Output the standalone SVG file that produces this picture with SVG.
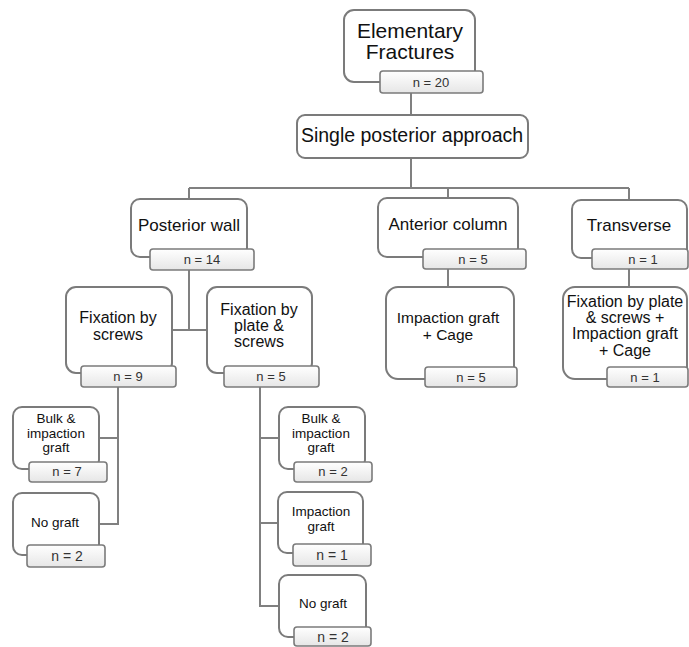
<svg xmlns="http://www.w3.org/2000/svg" width="689" height="647" viewBox="0 0 689 647">
<defs>
<linearGradient id="bg" x1="0" y1="0" x2="0" y2="1">
<stop offset="0" stop-color="#ffffff"/>
<stop offset="1" stop-color="#e6e6e6"/>
</linearGradient>
</defs>
<style>
.box{fill:#ffffff;stroke:#7b7b7b;stroke-width:2}
.bdg{fill:url(#bg);stroke:#7b7b7b;stroke-width:1.6}
.con{fill:none;stroke:#808080;stroke-width:2}
text{font-family:"Liberation Sans",Arial,sans-serif;fill:#111111;text-anchor:middle}
.t21{font-size:21px}
.t19{font-size:19.5px}
.t17{font-size:17px}
.t16{font-size:16px}
.t13{font-size:13.5px}
.n{font-size:13px;fill:#333}
</style>
<rect width="689" height="647" fill="#ffffff"/>
<g id="connectors">
<path class="con" d="M411 93V115M411 158V188M189 188H629M189 188V199M448 188V198M629 188V200"/>
<path class="con" d="M189 270V330M172 330H207"/>
<path class="con" d="M448 269V287M629 269V287"/>
<path class="con" d="M118 387V524H99M99 438H118"/>
<path class="con" d="M260 387V606H279M260 438H279M260 523H278"/>
</g>
<g id="n-elementary">
<rect class="box" x="344" y="10" width="131" height="72" rx="10"/>
<text class="t21" x="410" y="38">Elementary</text>
<text class="t21" x="410" y="59">Fractures</text>
<rect class="bdg" x="380" y="71" width="103" height="22" rx="3"/>
<text class="n" x="431" y="87">n = 20</text>
</g>
<g id="n-single">
<rect class="box" x="297" y="115" width="231" height="43" rx="8"/>
<text class="t19" x="412" y="142">Single posterior approach</text>
</g>
<g id="n-postwall">
<rect class="box" x="131" y="199" width="116" height="58" rx="9"/>
<text class="t17" x="189" y="231">Posterior wall</text>
<rect class="bdg" x="150" y="249" width="104" height="21" rx="3"/>
<text class="n" x="202" y="264">n = 14</text>
</g>
<g id="n-antcol">
<rect class="box" x="378" y="198" width="140" height="59" rx="9"/>
<text class="t17" x="448" y="230">Anterior column</text>
<rect class="bdg" x="423" y="249" width="103" height="20" rx="3"/>
<text class="n" x="473" y="264">n = 5</text>
</g>
<g id="n-transverse">
<rect class="box" x="572" y="200" width="115" height="58" rx="9"/>
<text class="t17" x="629" y="231">Transverse</text>
<rect class="bdg" x="592" y="249" width="96" height="20" rx="3"/>
<text class="n" x="643" y="264">n = 1</text>
</g>
<g id="n-fixscrews">
<rect class="box" x="66" y="287" width="106" height="86" rx="10"/>
<text class="t16" x="118" y="323">Fixation by</text>
<text class="t16" x="118" y="340">screws</text>
<rect class="bdg" x="81" y="366" width="95" height="21" rx="3"/>
<text class="n" x="128" y="381">n = 9</text>
</g>
<g id="n-fixplate">
<rect class="box" x="207" y="287" width="105" height="86" rx="10"/>
<text class="t16" x="259" y="315">Fixation by</text>
<text class="t16" x="259" y="331">plate &amp;</text>
<text class="t16" x="259" y="347">screws</text>
<rect class="bdg" x="224" y="366" width="95" height="21" rx="3"/>
<text class="n" x="271" y="381">n = 5</text>
</g>
<g id="n-impcage">
<rect class="box" x="386" y="287" width="128" height="92" rx="12"/>
<text class="t16" x="448" y="323" style="font-size:15.5px">Impaction graft</text>
<text class="t16" x="448" y="340" style="font-size:15.5px">+ Cage</text>
<rect class="bdg" x="425" y="367" width="92" height="20" rx="3"/>
<text class="n" x="471" y="382">n = 5</text>
</g>
<g id="n-fixplatecage">
<rect class="box" x="563" y="287" width="124" height="92" rx="12"/>
<text class="t16" x="625" y="307">Fixation by plate</text>
<text class="t16" x="625" y="323">&amp; screws +</text>
<text class="t16" x="625" y="339">Impaction graft</text>
<text class="t16" x="625" y="356">+ Cage</text>
<rect class="bdg" x="607" y="367" width="81" height="20" rx="3"/>
<text class="n" x="645" y="382">n = 1</text>
</g>
<g id="n-bulk-left">
<rect class="box" x="13" y="407" width="86" height="62" rx="9"/>
<text class="t13" x="56" y="423">Bulk &amp;</text>
<text class="t13" x="56" y="438">impaction</text>
<text class="t13" x="56" y="452">graft</text>
<rect class="bdg" x="29" y="462" width="78" height="20" rx="3"/>
<text class="n" x="67" y="476">n = 7</text>
</g>
<g id="n-nograft-left">
<rect class="box" x="13" y="493" width="86" height="62" rx="9"/>
<text class="t13" x="55" y="527">No graft</text>
<rect class="bdg" x="27" y="545" width="78" height="22" rx="3"/>
<text class="n" x="67" y="561" style="font-size:14px">n = 2</text>
</g>
<g id="n-bulk-right">
<rect class="box" x="279" y="407" width="86" height="62" rx="9"/>
<text class="t13" x="321" y="423">Bulk &amp;</text>
<text class="t13" x="321" y="438">impaction</text>
<text class="t13" x="321" y="452">graft</text>
<rect class="bdg" x="294" y="462" width="78" height="20" rx="3"/>
<text class="n" x="333" y="476">n = 2</text>
</g>
<g id="n-imp-right">
<rect class="box" x="278" y="492" width="85" height="61" rx="9"/>
<text class="t13" x="321" y="516">Impaction</text>
<text class="t13" x="321" y="531">graft</text>
<rect class="bdg" x="293" y="544" width="78" height="22" rx="3"/>
<text class="n" x="332" y="560" style="font-size:14px">n = 1</text>
</g>
<g id="n-nograft-right">
<rect class="box" x="279" y="575" width="87" height="62" rx="9"/>
<text class="t13" x="323" y="608">No graft</text>
<rect class="bdg" x="294" y="627" width="77" height="19" rx="3"/>
<text class="n" x="333" y="642" style="font-size:14px">n = 2</text>
</g>
</svg>
